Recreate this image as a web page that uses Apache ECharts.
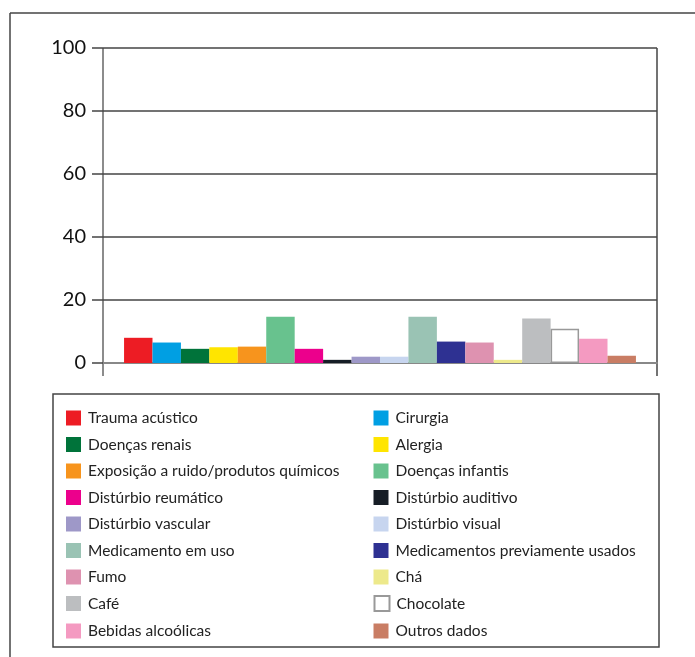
<!DOCTYPE html>
<html>
<head>
<meta charset="utf-8">
<script src="https://cdn.jsdelivr.net/npm/echarts@6/dist/echarts.min.js"></script>
<style>
  html, body { margin: 0; padding: 0; background: #fff; }
  #main { width: 695px; height: 657px; }
</style>
</head>
<body>
<div id="main"></div>
<script>
// categorias (uma barra por série)
var names = [
  'Trauma acústico', 'Cirurgia',
  'Doenças renais', 'Alergia',
  'Exposição a ruido/produtos químicos', 'Doenças infantis',
  'Distúrbio reumático', 'Distúrbio auditivo',
  'Distúrbio vascular', 'Distúrbio visual',
  'Medicamento em uso', 'Medicamentos previamente usados',
  'Fumo', 'Chá',
  'Café', 'Chocolate',
  'Bebidas alcoólicas', 'Outros dados'
];
// valores (%)
var values = [8, 6.5, 4.5, 5, 5.2, 14.7, 4.5, 1, 2, 2, 14.7, 6.8, 6.5, 1, 14.1, 10.9, 7.7, 2.3];
var yTicks = [0, 20, 40, 60, 80, 100];

var palette = ['#ED1C24', '#009FE3', '#00733A', '#FFE500', '#F7941D', '#68C28E',
  '#EC008C', '#161D26', '#9E98C8', '#C7D5EF', '#9AC3B4', '#2E3192',
  '#DE92B0', '#EDE98B', '#BCBEC0', '#FFFFFF', '#F49AC1', '#C97D64'];

var chart = echarts.init(document.getElementById('main'));

var series = [];
for (let i = 0; i < names.length; i++) {
  let style = { color: palette[i] };
  if (names[i] == 'Chocolate') {
    style.borderColor = '#999';
    style.borderWidth = 1.5;
  }
  series.push({
    name: names[i],
    type: 'bar',
    data: [values[i]],
    barGap: '0%',
    barCategoryGap: '7.6%',
    itemStyle: style,
    animation: false
  });
}

var option = {
  backgroundColor: '#fff',
  textStyle: { fontFamily: 'Lato, "Open Sans", sans-serif' },
  grid: { left: 103, right: 38, top: 48, bottom: 294 },
  xAxis: {
    type: 'category',
    data: [''],
    axisLine: { show: true, lineStyle: { color: '#888', width: 2 } },
    axisTick: { show: false },
    axisLabel: { show: false }
  },
  yAxis: {
    type: 'value',
    min: yTicks[0],
    max: yTicks[yTicks.length - 1],
    interval: 20,
    axisLine: { show: false },
    axisTick: { show: true, length: 11, lineStyle: { color: '#444', width: 1.5 } },
    axisLabel: { margin: 17, fontSize: 20, color: '#111' },
    splitLine: { show: true, lineStyle: { color: '#444', width: 1.5 } }
  },
  legend: {
    left: 66,
    top: 410,
    width: 640,
    padding: 0,
    orient: 'horizontal',
    icon: 'rect',
    itemWidth: 15,
    itemHeight: 15,
    itemGap: 10.5,
    selectedMode: false,
    textStyle: { fontSize: 15.5, color: '#222', width: 275, lineHeight: 15, padding: [0, 0, 0, 2] },
    data: names
  },
  graphic: [
    // moldura externa
    { type: 'line', shape: { x1: 10, y1: 13, x2: 695, y2: 13 }, style: { stroke: '#444', lineWidth: 1.5 } },
    { type: 'line', shape: { x1: 10, y1: 13, x2: 10, y2: 657 }, style: { stroke: '#444', lineWidth: 1.5 } },
    // laterais da área do gráfico
    { type: 'line', shape: { x1: 103, y1: 48, x2: 103, y2: 376 }, style: { stroke: '#666', lineWidth: 1.5 } },
    { type: 'line', shape: { x1: 657, y1: 48, x2: 657, y2: 376 }, style: { stroke: '#444', lineWidth: 1.5 } },
    // caixa da legenda
    { type: 'rect', z: -1, shape: { x: 53, y: 394, width: 606, height: 253 },
      style: { fill: '#fff', stroke: '#444', lineWidth: 1.5 } }
  ],
  series: series
};
chart.setOption(option);
</script>
</body>
</html>
